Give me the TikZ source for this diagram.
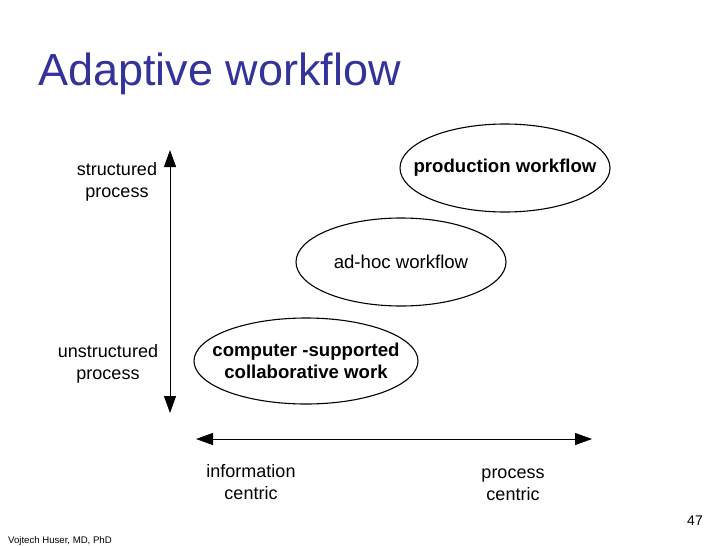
\documentclass[tikz,border=0pt]{standalone}
\usepackage{fontspec}
\setmainfont{Liberation Sans}
\usetikzlibrary{arrows.meta}
\definecolor{titleblue}{RGB}{51,51,153}

\begin{document}
\begin{tikzpicture}[x=1pt,y=-1pt]
    \tikzstyle{every node}=[font=\fontsize{18}{22}\selectfont, align=center, inner sep=0pt]
    \tikzstyle{kind}=[font=\fontsize{18.6}{22}\selectfont]
    \tikzstyle{kindbold}=[font=\fontsize{18.6}{22}\selectfont\bfseries]
    \tikzstyle{flowline}=[line width=1.1pt]
    \tikzstyle{axis}=[{Triangle[length=17pt,width=12pt]}-{Triangle[length=17pt,width=12pt]}, line width=1pt]
    \useasboundingbox (0,0) rectangle (728,546);

    \node[anchor=base west, text=titleblue, font=\fontsize{45}{50}\selectfont] (title) at (38,85) {Adaptive workflow};

    % workflow kinds
    \node[kindbold] (production) at (505,168) {production workflow};
    \node[kind] (adhoc) at (401,262) {ad-hoc workflow};
    \node[kindbold] (cscw) at (306,361) {computer -supported\\collaborative work};
    \draw[flowline] (production) ellipse [x radius=105pt, y radius=44pt];
    \draw[flowline] (adhoc) ellipse [x radius=105pt, y radius=44pt];
    \draw[flowline] (cscw) ellipse [x radius=112pt, y radius=43pt];

    % axes
    \coordinate (vtop) at (170,150);
    \coordinate (vbot) at (170,413);
    \coordinate (hleft) at (196,439);
    \coordinate (hright) at (592,439);
    \draw[axis] (vbot) -- (vtop);
    \draw[axis] (hleft) -- (hright);

    \node (structured) at (117,182) {structured\\process};
    \node (unstructured) at (108,363.5) {unstructured\\process};
    \node (information) at (251,482) {information\\centric};
    \node (processc) at (513,484.5) {process\\centric};

    \node[font=\fontsize{14}{16}\selectfont] (page) at (695,521) {47};
    \node[anchor=base west, font=\fontsize{9.6}{11}\selectfont] (author) at (8,543) {Vojtech Huser, MD, PhD};
\end{tikzpicture}
\end{document}
